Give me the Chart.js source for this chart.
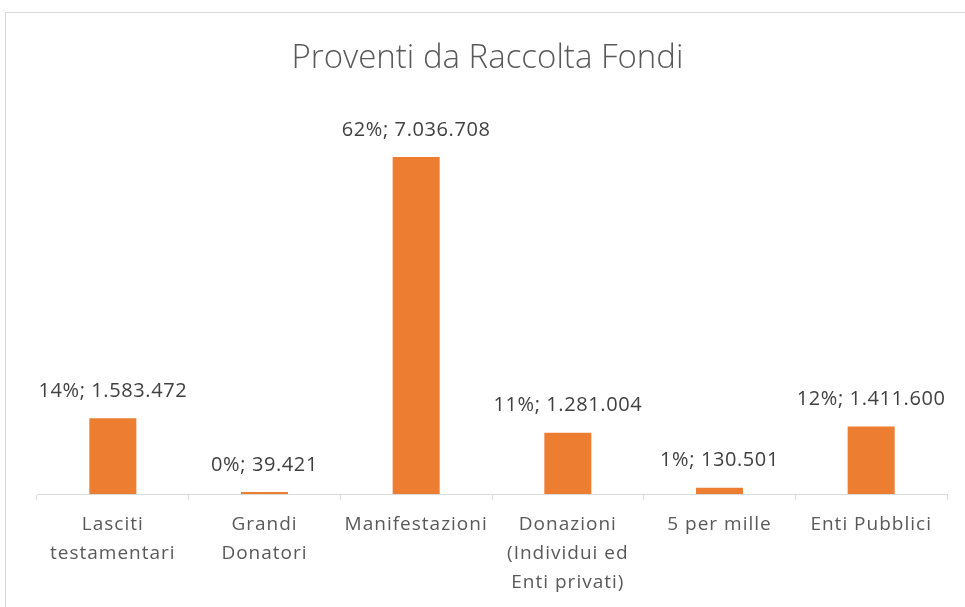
<!DOCTYPE html>
<html>
<head>
<meta charset="utf-8">
<script src="https://cdn.jsdelivr.net/npm/chart.js@4"></script>
<style>
  html, body { margin: 0; padding: 0; background: #ffffff; }
  #wrap { width: 965px; height: 607px; position: relative; }
  canvas { display: block; }
</style>
</head>
<body>
<div id="wrap"><canvas id="c" width="965" height="607"></canvas></div>
<script>
// ---- data ----
const chartTitle = "Proventi da Raccolta Fondi";
const categories = [
  ["Lasciti", "testamentari"],
  ["Grandi", "Donatori"],
  ["Manifestazioni"],
  ["Donazioni", "(Individui ed", "Enti privati)"],
  ["5 per mille"],
  ["Enti Pubblici"]
];
const values = [1583472, 39421, 7036708, 1281004, 130501, 1411600];
const percents = [14, 0, 62, 11, 1, 12];
const yMax = 8000000;

function fmtIt(n) {
  return String(n).replace(/\B(?=(\d{3})+(?!\d))/g, ".");
}

const frame = {
  id: 'frame',
  beforeDraw(chart) {
    const ctx = chart.ctx;
    ctx.save();
    ctx.strokeStyle = '#d9d9d9';
    ctx.lineWidth = 1;
    ctx.strokeRect(5.5, 12.5, 1000, 1000);
    ctx.restore();
    ctx.letterSpacing = '1px';
  },
  afterDraw(chart) {
    chart.ctx.letterSpacing = '0px';
  }
};

const titlePlugin = {
  id: 'titleText',
  afterDraw(chart) {
    const ctx = chart.ctx;
    ctx.save();
    ctx.letterSpacing = '0px';
    ctx.font = '300 33px "Open Sans"';
    ctx.fillStyle = '#595959';
    ctx.textAlign = 'center';
    ctx.textBaseline = 'alphabetic';
    ctx.fillText(chartTitle, 487.5, 68);
    ctx.restore();
  }
};

const valueLabels = {
  id: 'valueLabels',
  afterDatasetsDraw(chart) {
    const ctx = chart.ctx;
    const meta = chart.getDatasetMeta(0);
    ctx.save();
    ctx.letterSpacing = '0.6px';
    ctx.font = '20px "Open Sans"';
    ctx.fillStyle = '#404040';
    ctx.textAlign = 'center';
    ctx.textBaseline = 'middle';
    meta.data.forEach((bar, i) => {
      const txt = percents[i] + '%; ' + fmtIt(values[i]);
      ctx.fillText(txt, bar.x, bar.y - 27);
    });
    ctx.restore();
  }
};

new Chart(document.getElementById('c'), {
  type: 'bar',
  data: {
    labels: categories,
    datasets: [{
      data: values,
      backgroundColor: '#ED7D31',
      borderWidth: 0,
      barPercentage: 0.31,
      categoryPercentage: 1.0
    }]
  },
  options: {
    responsive: false,
    animation: false,
    layout: { padding: { left: 37, right: 18, top: 111, bottom: 0 } },
    plugins: {
      legend: { display: false },
      title: { display: false },
      tooltip: { enabled: false }
    },
    scales: {
      x: {
        grid: {
          offset: true,
          drawOnChartArea: false,
          drawTicks: true,
          tickLength: 6,
          color: '#d9d9d9'
        },
        border: { display: true, color: '#d9d9d9', width: 1 },
        ticks: {
          color: '#595959',
          font: { family: '"Open Sans"', size: 19, lineHeight: 29 / 19 },
          padding: 10,
          maxRotation: 0,
          minRotation: 0,
          autoSkip: false
        }
      },
      y: {
        display: false,
        min: 0,
        max: yMax
      }
    }
  },
  plugins: [frame, valueLabels, titlePlugin]
});
</script>
</body>
</html>
